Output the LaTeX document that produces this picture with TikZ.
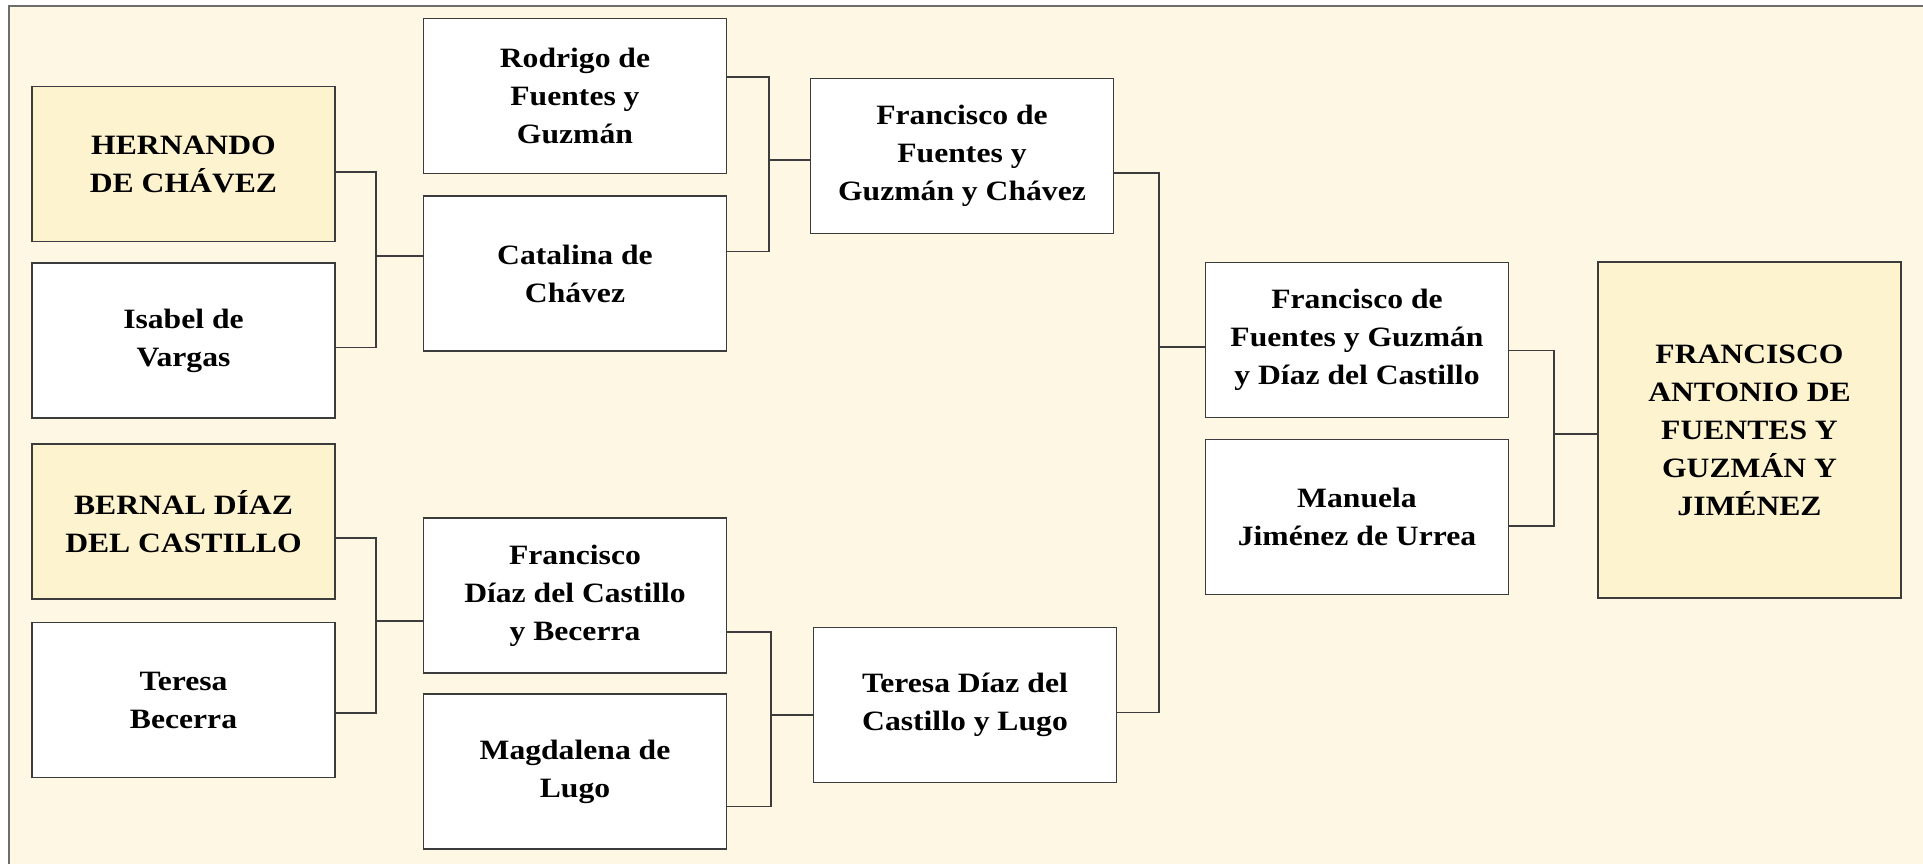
\documentclass[tikz,border=0pt]{standalone}
\usepackage{fontspec}
\setmainfont{Liberation Serif}[FakeStretch=1.13]
\definecolor{cream}{RGB}{254,247,228}
\definecolor{gold}{RGB}{253,243,207}
\definecolor{edge}{RGB}{60,60,60}
\tikzset{
	person/.style={draw=edge, line width=1.3pt, fill=white, minimum width=303pt, minimum height=155pt,
		inner sep=0pt, align=center, font=\bfseries\fontsize{28}{38}\selectfont,
		execute at begin node={\rule{0pt}{40pt}}},
	noble/.style={person, fill=gold},
	link/.style={draw=edge, line width=1.3pt}
}
\begin{document}
\begin{tikzpicture}[x=1pt, y=-1pt]
		\useasboundingbox (0,0) rectangle (1923,864);
		\fill[white] (0,0) rectangle (1923,864);
		\fill[cream] (9,6) rectangle (1923,864);
		\draw[edge!75, line width=2pt] (9,864) -- (9,6) -- (1923,6);
		% generation 1
		\node[noble] (hern) at (183.5,164) {HERNANDO\\DE CHÁVEZ};
		\node[person] (isab) at (183.5,340.5) {Isabel de\\Vargas};
		\node[noble] (bern) at (183.5,521.5) {BERNAL DÍAZ\\DEL CASTILLO};
		\node[person] (tber) at (183.5,700) {Teresa\\Becerra};
		% generation 2
		\node[person] (rodr) at (575,96) {Rodrigo de\\Fuentes y\\Guzmán};
		\node[person] (cata) at (575,273.5) {Catalina de\\Chávez};
		\node[person] (fdc) at (575,595.5) {Francisco\\Díaz del Castillo\\y Becerra};
		\node[person] (magd) at (575,771.5) {Magdalena de\\Lugo};
		% generation 3
		\node[person] (ffgc) at (962,156) {Francisco de\\Fuentes y\\Guzmán y Chávez};
		\node[person] (tdcl) at (965,705) {Teresa Díaz del\\Castillo y Lugo};
		% generation 4
		\node[person] (ffgd) at (1357,340) {Francisco de\\Fuentes y Guzmán\\y Díaz del Castillo};
		\node[person] (manu) at (1357,517) {Manuela\\Jiménez de Urrea};
		\node[noble, minimum height=336pt] (fant) at (1749.5,430) {FRANCISCO\\ANTONIO DE\\FUENTES Y\\GUZMÁN Y\\JIMÉNEZ};
		% forks: father/shift/mother/shift/child/junction
		\foreach \pa/\sa/\pb/\sb/\kid/\jx/\jy in {hern/-8pt/isab/-7pt/cata/376/256, rodr/19pt/cata/22pt/ffgc/769/160,
			bern/-16.5pt/tber/-13pt/fdc/376/621, fdc/-36.5pt/magd/-35pt/tdcl/771/715,
			ffgc/-17pt/tdcl/-7.5pt/ffgd/1159/347, ffgd/-10.7pt/manu/-9pt/fant/1554/434}
		{
			\coordinate (j-\kid) at (\jx,\jy);
			\draw[link] ([yshift=\sa]\pa.east) -| (j-\kid) |- ([yshift=\sb]\pb.east);
			\draw[link] (j-\kid) -- (j-\kid -| \kid.west);
		}
	\end{tikzpicture}
\end{document}
